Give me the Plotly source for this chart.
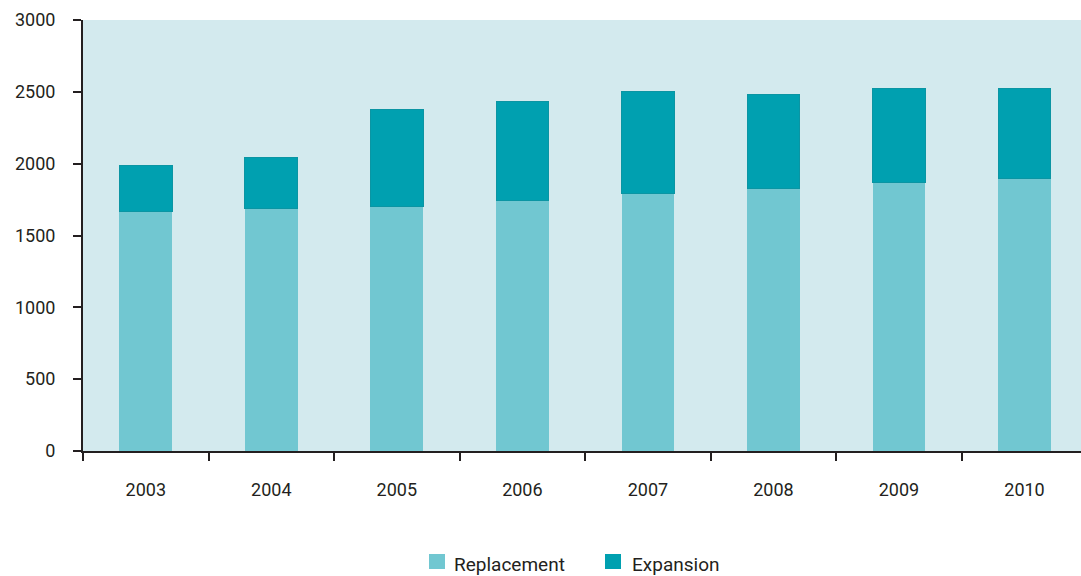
import plotly.graph_objects as go

years = ["2003", "2004", "2005", "2006", "2007", "2008", "2009", "2010"]
replacement = [1670, 1685, 1700, 1745, 1795, 1830, 1870, 1900]
expansion = [315, 360, 680, 685, 710, 650, 650, 620]
y_ticks = [0, 500, 1000, 1500, 2000, 2500, 3000]
series_names = ["Replacement", "Expansion"]
series_colors = ["#71c7d1", "#00a0b0"]

FONT = "Roboto"
INK = "#231f20"
W, H = 1081, 576
ML, MR, MT, MB = 83, 0, 20, 125
PW, PH = W - ML - MR, H - MT - MB


def px_to_paper(px, py):
    return (px - ML) / PW, 1 - (py - MT) / PH


fig = go.Figure()
fig.add_trace(go.Bar(
    x=years, y=replacement, name=series_names[0],
    marker=dict(color=series_colors[0], line=dict(width=0)),
    width=0.42, showlegend=False,
))
fig.add_trace(go.Bar(
    x=years, y=expansion, name=series_names[1],
    marker=dict(color=series_colors[1], line=dict(width=1, color="#0b95a3")),
    width=0.42, showlegend=False,
))

# manual legend (square swatches + labels), positioned in pixels
legend_items = [(429, 453), (605, 631)]  # (swatch left, text left)
for (sx, tx), name, col in zip(legend_items, series_names, series_colors):
    x0, y0 = px_to_paper(sx, 569)
    x1, y1 = px_to_paper(sx + 16, 554)
    fig.add_shape(type="rect", xref="paper", yref="paper",
                  x0=x0, y0=y0, x1=x1, y1=y1,
                  fillcolor=col, line=dict(width=0))
    ax, ay = px_to_paper(tx - 1, 564)
    fig.add_annotation(xref="paper", yref="paper", x=ax, y=ay,
                       text=name, showarrow=False,
                       xanchor="left", yanchor="middle",
                       font=dict(family=FONT, size=19, color=INK))

fig.update_layout(
    barmode="stack",
    width=W, height=H,
    margin=dict(l=ML, r=MR, t=MT, b=MB, autoexpand=False),
    paper_bgcolor="white",
    plot_bgcolor="#d3eaee",
    font=dict(family=FONT, size=18, color=INK),
    showlegend=False,
)
fig.update_xaxes(
    type="category",
    range=[-0.5, 7.45],
    automargin=False,
    showline=True, linecolor=INK, linewidth=2,
    ticks="outside", tickson="boundaries", ticklen=8, tickwidth=2, tickcolor=INK,
    showgrid=False, zeroline=False,
    ticklabelstandoff=21,
    tickfont=dict(family=FONT, size=18, color=INK),
)
fig.update_yaxes(
    range=[0, 3000],
    tickvals=y_ticks,
    automargin=False,
    showline=True, linecolor=INK, linewidth=2,
    ticks="outside", ticklen=8, tickwidth=2, tickcolor=INK,
    showgrid=False, zeroline=False,
    ticklabelstandoff=14,
    tickfont=dict(family=FONT, size=18, color=INK),
)

fig.write_html(
    "out.html",
    config={"displayModeBar": False},
    post_script="document.body.style.margin='0';document.body.style.overflow='hidden';",
)
